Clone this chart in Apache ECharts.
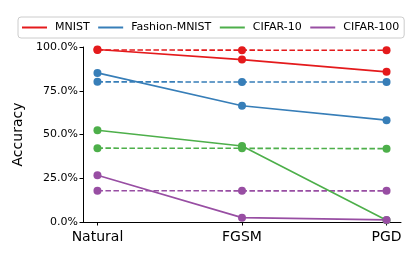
<!DOCTYPE html>
<html><head><meta charset="utf-8">
<script src="https://cdn.jsdelivr.net/npm/echarts@6/dist/echarts.min.js"></script>
<style>html,body{margin:0;padding:0;background:#fff}#c{width:415px;height:258px}</style>
</head><body><div id="c"></div>
<script>
const categories = ['Natural', 'FGSM', 'PGD'];
const datasets = ['MNIST', 'Fashion-MNIST', 'CIFAR-10', 'CIFAR-100'];
const colors = ['#e41a1c', '#377eb8', '#4daf4a', '#984ea3'];
const solidMNIST = [98.6, 92.8, 85.8];
const solidFashion = [85.2, 66.4, 58.2];
const solidCIFAR10 = [52.4, 43.4, 1.0];
const solidCIFAR100 = [26.7, 2.5, 1.2];
const dashedMNIST = [98.3, 98.2, 98.1];
const dashedFashion = [80.1, 80.0, 80.0];
const dashedCIFAR10 = [42.2, 42.1, 41.9];
const dashedCIFAR100 = [17.9, 17.8, 17.8];
const yTicks = [0, 25, 50, 75, 100];

const solid = [solidMNIST, solidFashion, solidCIFAR10, solidCIFAR100];
const dashed = [dashedMNIST, dashedFashion, dashedCIFAR10, dashedCIFAR100];
const font = 'DejaVu Sans';
const idx = categories.map((c, i) => i);
const pairs = arr => arr.map((v, i) => [i, v]);
const series = [];
datasets.forEach((n, i) => {
  series.push({name: n + ' (robust)', type: 'line', data: pairs(dashed[i]), symbol: 'circle', symbolSize: 8,
    lineStyle: {color: colors[i], width: 1.6, type: [5.5, 2.5]}, itemStyle: {color: colors[i]}, z: 2});
});
datasets.forEach((n, i) => {
  series.push({name: n, type: 'line', data: pairs(solid[i]), symbol: 'circle', symbolSize: 8,
    lineStyle: {color: colors[i], width: 1.6}, itemStyle: {color: colors[i]}, z: 3});
});
const chart = echarts.init(document.getElementById('c'), null, {renderer: 'canvas'});
chart.setOption({
  animation: false,
  backgroundColor: '#fff',
  grid: {left: 83, right: 14, top: 47, bottom: 36, containLabel: false},
  legend: {
    data: datasets.map((n, i) => ({name: n, icon: 'rect', itemStyle: {color: colors[i]}})),
    left: 18, top: 17, width: 386,
    itemWidth: 25, itemHeight: 2, itemGap: 8.5,
    padding: [5, 5, 5, 4],
    borderColor: '#cccccc', borderWidth: 1, borderRadius: 3,
    textStyle: {fontFamily: font, fontSize: 11, color: '#000', padding: [0, 0, 0, 3]}
  },
  xAxis: {
    type: 'value', min: -0.1, max: 2.1,
    axisLine: {onZero: false, lineStyle: {color: '#000', width: 1}},
    axisTick: {show: true, customValues: idx, length: 3.5, lineStyle: {color: '#000'}},
    axisLabel: {fontFamily: font, fontSize: 14, color: '#000', margin: 8, customValues: idx,
      formatter: v => categories[Math.round(v)]},
    splitLine: {show: false}
  },
  yAxis: {
    type: 'value', min: 0, max: 100, interval: 25,
    name: 'Accuracy', nameLocation: 'middle', nameGap: 53,
    nameTextStyle: {fontFamily: font, fontSize: 14, color: '#000'},
    axisLine: {show: true, onZero: false, lineStyle: {color: '#000', width: 1}},
    axisTick: {show: true, customValues: yTicks, length: 3.5, lineStyle: {color: '#000'}},
    axisLabel: {fontFamily: font, fontSize: 11, color: '#000', margin: 5, customValues: yTicks,
      formatter: v => v.toFixed(1) + '%'},
    splitLine: {show: false}
  },
  series: series
});
</script></body></html>
